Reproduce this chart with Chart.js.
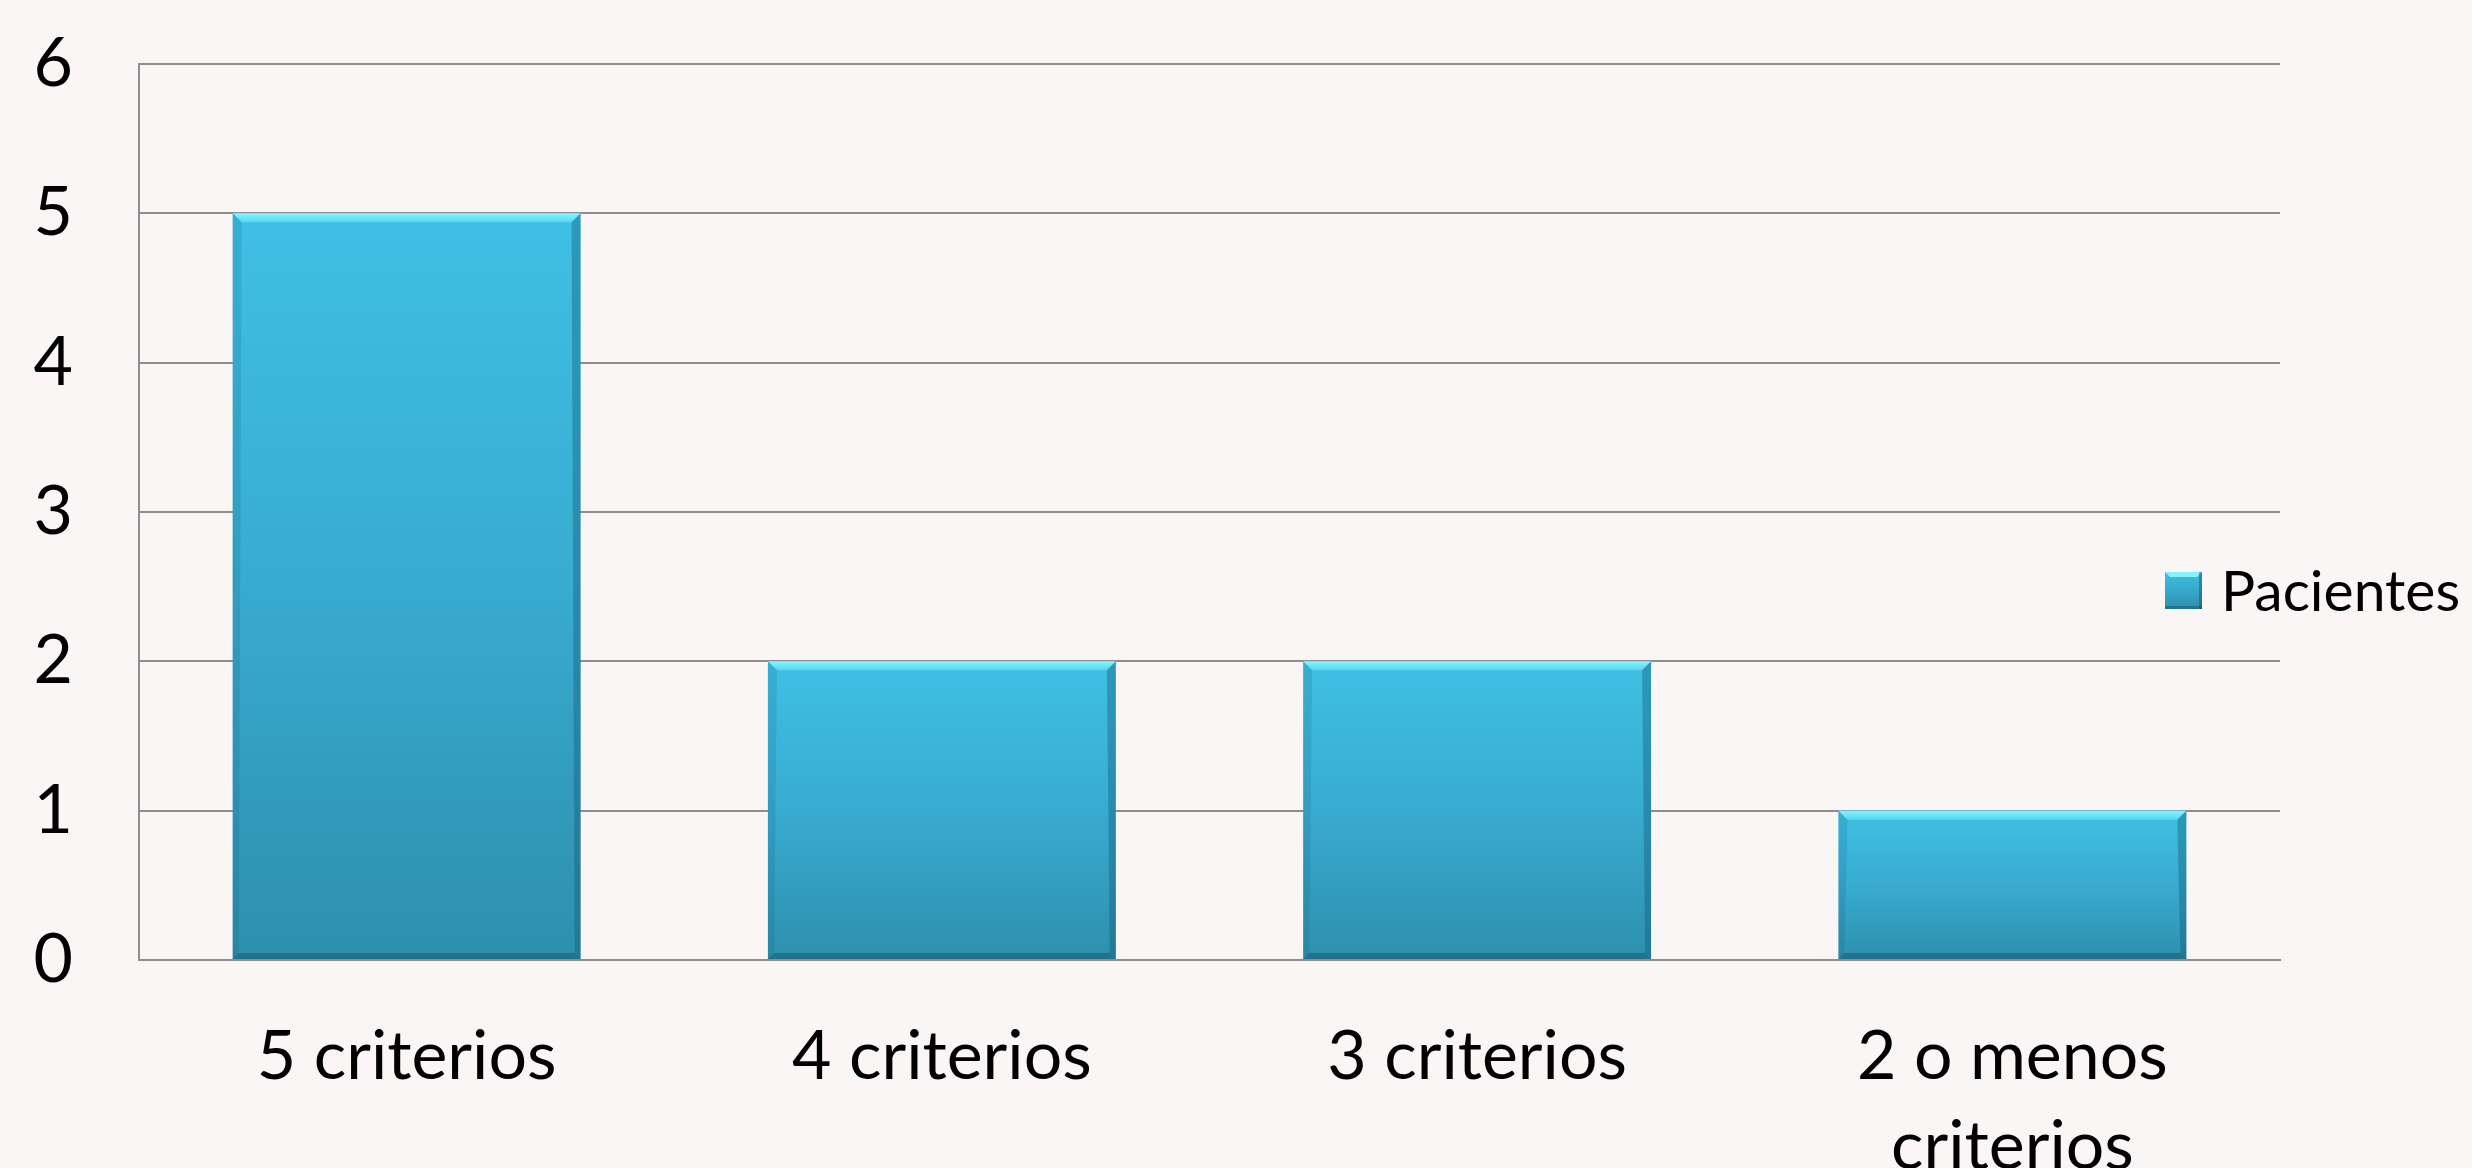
<!DOCTYPE html>
<html>
<head>
<meta charset="utf-8">
<script src="https://cdn.jsdelivr.net/npm/chart.js@4"></script>
<style>
  html, body { margin: 0; padding: 0; background: #f9f6f5; }
  #wrap { width: 2472px; height: 1168px; }
</style>
</head>
<body>
<div id="wrap"><canvas id="barChart"></canvas></div>
<script>
// data
const categories = ["5 criterios", "4 criterios", "3 criterios", ["2 o menos", "criterios"]];
const pacientes = [5, 2, 2, 1];
const seriesLabel = "Pacientes";
const yTicks = [0, 1, 2, 3, 4, 5, 6];

const FONT = "Lato, 'Open Sans', sans-serif";
const GRID = "#8e8e8e";

// vertical gradient per bar, light on top, darker at base
function barFill(context) {
  const chart = context.chart;
  const y = chart.scales && chart.scales.y;
  if (!chart.chartArea || !y) return "#3ab3d8";
  const v = pacientes[context.dataIndex];
  const top = y.getPixelForValue(v);
  const bottom = y.getPixelForValue(0);
  const g = chart.ctx.createLinearGradient(0, top, 0, bottom);
  g.addColorStop(0, "#3fc0e4");
  g.addColorStop(0.5, "#38abd0");
  g.addColorStop(1, "#2e8fae");
  return g;
}

// bevel edges drawn over the bars, using the bar elements' own geometry
const bevelPlugin = {
  id: "bevel",
  afterDatasetsDraw(chart) {
    const ctx = chart.ctx;
    const meta = chart.getDatasetMeta(0);
    meta.data.forEach(function (bar) {
      const p = bar.getProps(["x", "y", "base", "width"], true);
      const l = p.x - p.width / 2, r = p.x + p.width / 2;
      const t = p.y, b = p.base, d = 9;
      ctx.save();
      // top bevel
      const tg = ctx.createLinearGradient(0, t, 0, t + d);
      tg.addColorStop(0, "#86f4ff");
      tg.addColorStop(1, "#55d6f0");
      ctx.fillStyle = tg;
      ctx.beginPath();
      ctx.moveTo(l, t); ctx.lineTo(r, t); ctx.lineTo(r - d, t + d); ctx.lineTo(l + d, t + d);
      ctx.closePath(); ctx.fill();
      // right bevel
      ctx.fillStyle = "rgba(15,80,105,0.35)";
      ctx.beginPath();
      ctx.moveTo(r, t); ctx.lineTo(r, b); ctx.lineTo(r - 6, b - 6); ctx.lineTo(r - d, t + d);
      ctx.closePath(); ctx.fill();
      // bottom bevel
      ctx.fillStyle = "rgba(15,70,90,0.4)";
      ctx.beginPath();
      ctx.moveTo(l, b); ctx.lineTo(r, b); ctx.lineTo(r - 6, b - 6); ctx.lineTo(l + 6, b - 6);
      ctx.closePath(); ctx.fill();
      // left bevel
      ctx.fillStyle = "rgba(15,80,105,0.15)";
      ctx.beginPath();
      ctx.moveTo(l, t); ctx.lineTo(l + d, t + d); ctx.lineTo(l + 6, b - 6); ctx.lineTo(l, b);
      ctx.closePath(); ctx.fill();
      ctx.restore();
    });
  }
};

// legend sits over the right edge of the plot, like the original
const legendPlugin = {
  id: "sideLegend",
  afterDraw(chart) {
    const ctx = chart.ctx;
    const bx = chart.width - 307, by = chart.height / 2 - 12, s = 37;
    ctx.save();
    const g = ctx.createLinearGradient(0, by, 0, by + s);
    g.addColorStop(0, "#3fc0e4");
    g.addColorStop(1, "#2e8fae");
    ctx.fillStyle = g;
    ctx.fillRect(bx, by, s, s);
    ctx.fillStyle = "#86f4ff";
    ctx.beginPath();
    ctx.moveTo(bx, by); ctx.lineTo(bx + s, by); ctx.lineTo(bx + s - 5, by + 5); ctx.lineTo(bx + 5, by + 5);
    ctx.closePath(); ctx.fill();
    ctx.fillStyle = "rgba(15,70,90,0.4)";
    ctx.fillRect(bx, by + s - 3, s, 3);
    ctx.fillRect(bx + s - 3, by, 3, s);
    ctx.fillStyle = "#000";
    ctx.font = "57px " + FONT;
    ctx.textBaseline = "middle";
    ctx.fillText(chart.data.datasets[0].label, bx + s + 19, by + s / 2 + 2);
    ctx.restore();
  }
};

var ctx = document.getElementById("barChart").getContext("2d");

var barChart = new Chart(ctx, {
  type: "bar",
  data: {
    labels: categories,
    datasets: [
      {
        label: seriesLabel,
        data: pacientes,
        backgroundColor: barFill,
        borderWidth: 0,
        categoryPercentage: 1,
        barPercentage: 0.65,
      },
    ],
  },
  options: {
    responsive: true,
    maintainAspectRatio: false,
    animation: false,
    layout: { padding: { top: 64, right: 192, bottom: 0, left: 0 } },
    plugins: {
      legend: { display: false },
      tooltip: { enabled: false },
    },
    scales: {
      x: {
        grid: { display: false, drawTicks: false },
        border: { display: true, color: GRID, width: 2 },
        ticks: {
          color: "#000",
          padding: 52,
          maxRotation: 0,
          autoSkip: false,
          font: { family: FONT, size: 68, lineHeight: 1.32 },
        },
        afterFit(scale) { scale.height = 208; },
      },
      y: {
        min: 0,
        max: 6,
        afterBuildTicks(scale) { scale.ticks = yTicks.map(v => ({ value: v })); },
        grid: { color: GRID, lineWidth: 2, drawTicks: false },
        border: { display: true, color: GRID, width: 2 },
        ticks: {
          color: "#000",
          padding: 66,
          font: { family: FONT, size: 68 },
        },
        afterFit(scale) {
          scale.width = 139;
          scale.paddingTop = 0;
          scale.paddingBottom = 0;
        },
      },
    },
  },
  plugins: [bevelPlugin, legendPlugin],
});
</script>
</body>
</html>
